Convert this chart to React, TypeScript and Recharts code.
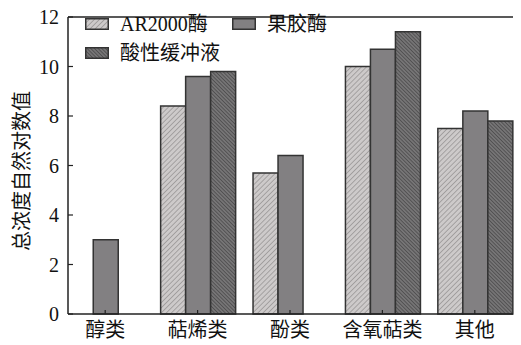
import React from "react";
import { BarChart, Bar, XAxis, YAxis, ReferenceLine } from "recharts";

const categories = ["醇类", "萜烯类", "酚类", "含氧萜类", "其他"];
const ar2000 = [null, 8.4, 5.7, 10.0, 7.5];
const pectinase = [3.0, 9.6, 6.4, 10.7, 8.2];
const buffer = [null, 9.8, null, 11.4, 7.8];
const yTicks = [0, 2, 4, 6, 8, 10, 12];

const data = categories.map((name, i) => ({
  name,
  ar: ar2000[i],
  pect: pectinase[i],
  buf: buffer[i],
}));

const FONT = '"Liberation Serif", "Noto Sans CJK SC", serif';
const EDGE = "#333";

const series = [
  { key: "ar", name: "AR2000酶", fill: "url(#hatchAR)" },
  { key: "pect", name: "果胶酶", fill: "#828082" },
  { key: "buf", name: "酸性缓冲液", fill: "url(#hatchBuf)" },
];

// where each legend entry sits, relative to the legend box
const legendPos = [
  { left: 0, top: 0 },
  { left: 147, top: 0 },
  { left: 0, top: 29 },
];

const LegendBox = () => (
  <div style={{ position: "absolute", left: 85, top: 12, width: 260, height: 60, fontFamily: FONT, fontSize: 20, color: "#111" }}>
    {series.map((s, i) => (
      <div
        key={s.key}
        style={{ position: "absolute", ...legendPos[i], display: "flex", alignItems: "center", whiteSpace: "nowrap", lineHeight: "24px" }}
      >
        <svg width={24} height={12} style={{ marginRight: 11 }}>
          <rect x={0.75} y={0.75} width={22.5} height={10.5} fill={s.fill} stroke={EDGE} strokeWidth={1.5} />
        </svg>
        <span>{s.name}</span>
      </div>
    ))}
  </div>
);

const YLabel = () => (
  <text
    x={22}
    y={171}
    transform="rotate(-90 22 171)"
    textAnchor="middle"
    dominantBaseline="central"
    fontFamily={FONT}
    fontSize={20}
    fill="#111"
  >
    总浓度自然对数值
  </text>
);

export default function App() {
  return (
    <div style={{ position: "absolute", left: 0, top: 0, width: 521, height: 345, background: "#fff" }}>
      <BarChart
        width={521}
        height={345}
        data={data}
        margin={{ top: 17, right: 8, bottom: 0, left: 0 }}
        barCategoryGap="10%"
        barGap={0}
      >
        <defs>
          <pattern id="hatchAR" patternUnits="userSpaceOnUse" width="3.6" height="3.6" patternTransform="rotate(45)">
            <rect width="3.6" height="3.6" fill="#cdcaca" />
            <line x1="0" y1="0" x2="0" y2="3.6" stroke="#8e8b8b" strokeWidth="1.3" />
          </pattern>
          <pattern id="hatchBuf" patternUnits="userSpaceOnUse" width="2.6" height="2.6" patternTransform="rotate(-45)">
            <rect width="2.6" height="2.6" fill="#767576" />
            <line x1="0" y1="0" x2="0" y2="2.6" stroke="#3e3d3e" strokeWidth="1.2" />
          </pattern>
        </defs>
        <XAxis
          dataKey="name"
          height={31}
          padding={{ left: -9, right: -8 }}
          axisLine={{ stroke: "#222", strokeWidth: 1.5 }}
          tickLine={{ stroke: "#222", strokeWidth: 1.2 }}
          tickSize={-4}
          tickMargin={13}
          tick={{ fill: "#111", fontSize: 20, fontFamily: FONT }}
          interval={0}
        />
        <YAxis
          domain={[0, 12]}
          ticks={yTicks}
          width={68}
          axisLine={{ stroke: "#222", strokeWidth: 1.5 }}
          tickLine={{ stroke: "#222", strokeWidth: 1.2 }}
          tickSize={-5}
          tickMargin={14}
          tick={{ fill: "#111", fontSize: 20, fontFamily: FONT }}
          label={<YLabel />}
        />
        <ReferenceLine y={12} stroke="#222" strokeWidth={1.5} />
        {series.map((s) => (
          <Bar key={s.key} dataKey={s.key} name={s.name} fill={s.fill} stroke={EDGE} strokeWidth={1.5} isAnimationActive={false} />
        ))}
      </BarChart>
      <LegendBox />
    </div>
  );
}
